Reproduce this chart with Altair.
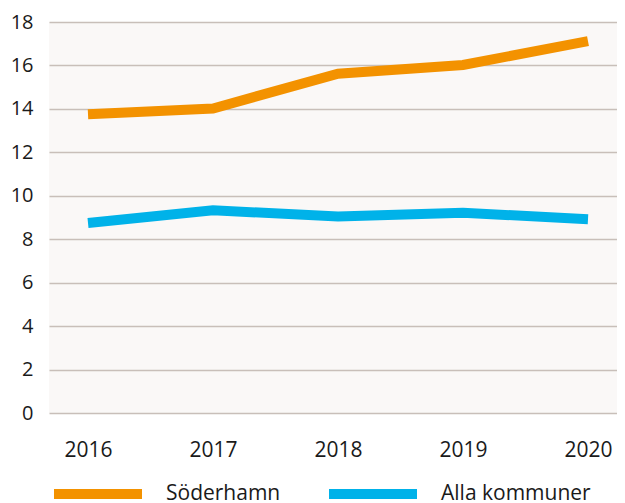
import altair as alt
import pandas as pd

years = [2016, 2017, 2018, 2019, 2020]
soderhamn = [13.75, 14.02, 15.62, 16.02, 17.12]
alla = [8.75, 9.33, 9.05, 9.22, 8.92]
series_names = ["Söderhamn", "Alla kommuner"]
colors = ["#F39200", "#00B2E9"]

rows = []
for y, v in zip(years, soderhamn):
    rows.append({"year": y, "value": v, "series": series_names[0]})
for y, v in zip(years, alla):
    rows.append({"year": y, "value": v, "series": series_names[1]})
df = pd.DataFrame(rows)

font = "Open Sans"

chart = alt.Chart(df).mark_line(strokeWidth=10, strokeCap="butt", strokeJoin="miter").encode(
    x=alt.X("year:Q", title=None,
            scale=alt.Scale(domain=[2015.688, 2020.232], nice=False, zero=False),
            axis=alt.Axis(values=years, format="d", labelFontSize=21, labelColor="#1a1a1a",
                          labelFont=font, domain=False, ticks=False, grid=False,
                          labelPadding=26, labelFlush=False)),
    y=alt.Y("value:Q", title=None,
            scale=alt.Scale(domain=[0, 18], nice=False),
            axis=alt.Axis(values=list(range(0, 19, 2)), labelFontSize=20,
                          labelColor="#1a1a1a", labelFont=font, domain=False,
                          ticks=False, gridColor="#C8BFB9", gridWidth=1.3,
                          labelPadding=16)),
    color=alt.Color("series:N", sort=series_names,
                    scale=alt.Scale(domain=series_names, range=colors),
                    legend=alt.Legend(title=None, orient="none", direction="horizontal",
                                      legendX=0, legendY=423,
                                      symbolType="stroke", symbolSize=7744,
                                      symbolStrokeWidth=10, labelFontSize=21,
                                      labelFont=font, labelColor="#1a1a1a",
                                      labelOffset=19, columnPadding=28)),
).properties(
    width=568, height=391,
    background="white",
    padding={"left": 41, "top": 14, "right": 0, "bottom": 90},
    autosize=alt.AutoSizeParams(type="none"),
).configure_view(fill="#FAF8F7", stroke=None)

chart.save("out.html", embed_options={"renderer": "svg", "actions": False})
